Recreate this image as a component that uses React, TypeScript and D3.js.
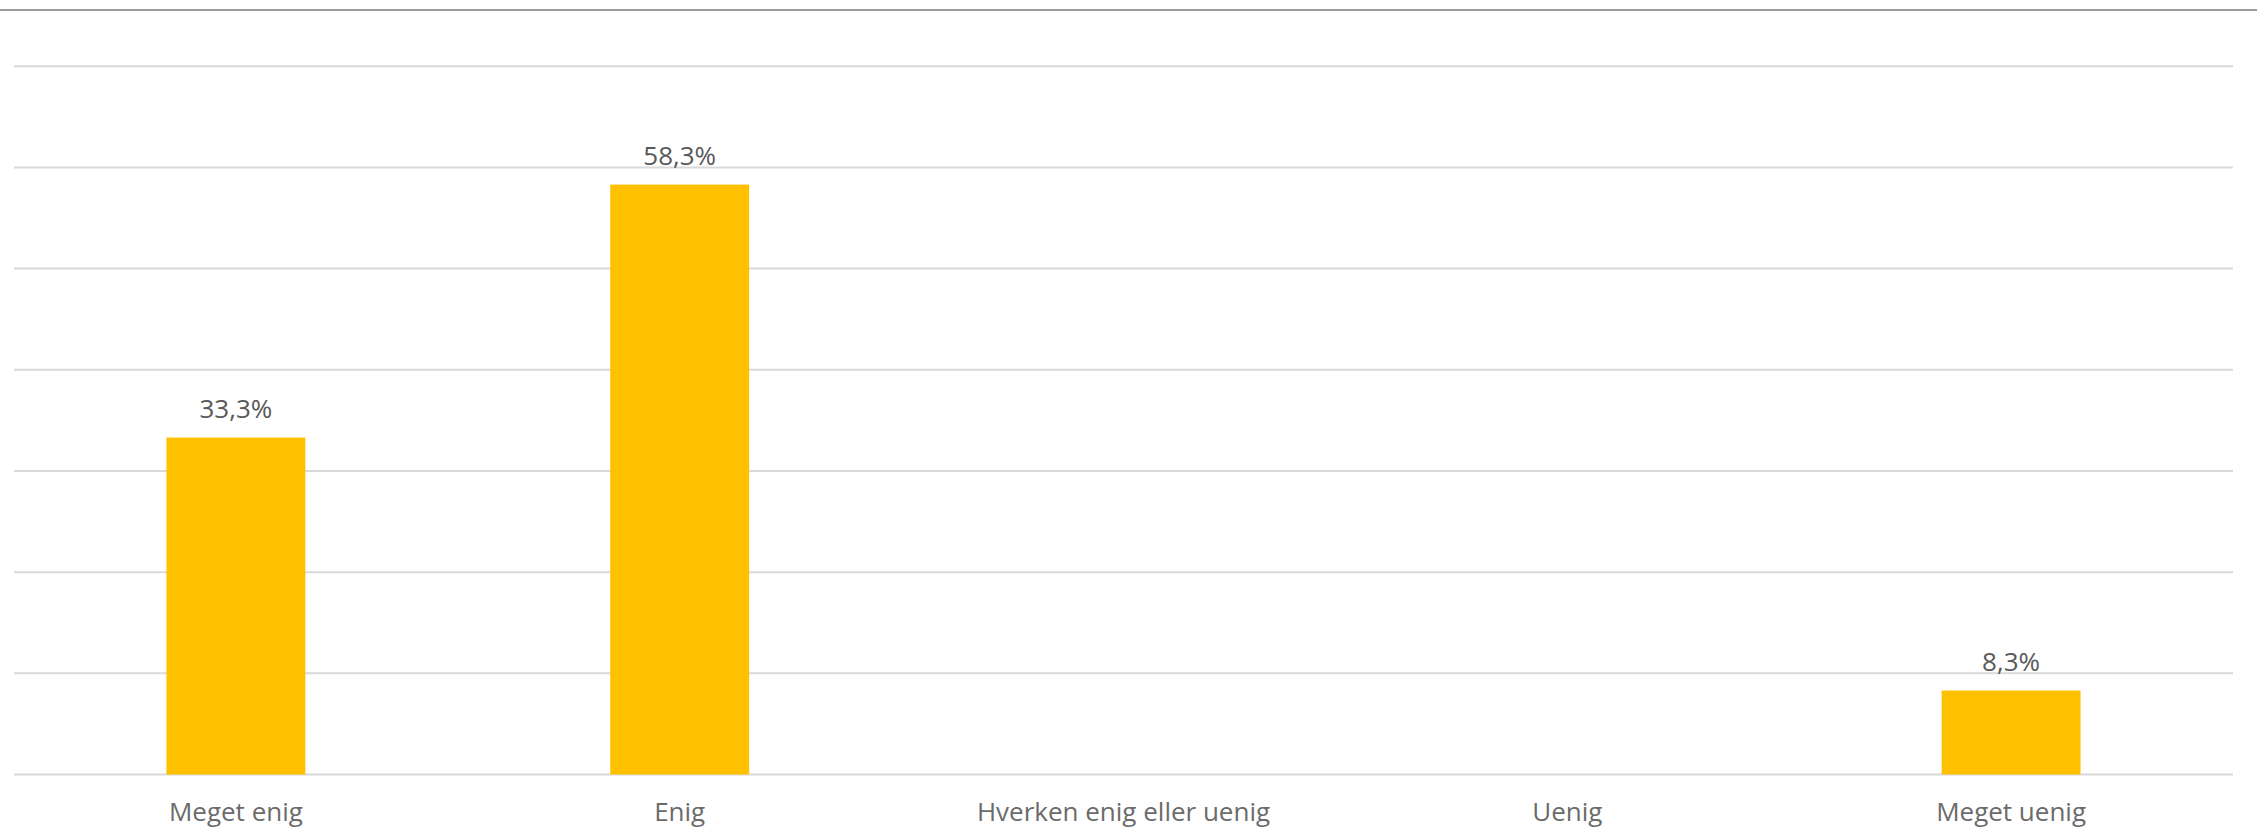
import React from "react";
import * as d3 from "d3";

const categories = ["Meget enig", "Enig", "Hverken enig eller uenig", "Uenig", "Meget uenig"];
const values: (number | null)[] = [33.3, 58.3, null, null, 8.3];
const yTicks = [0, 10, 20, 30, 40, 50, 60, 70];

const W = 2257;
const H = 828;
const left = 14;
const right = 2233;
const top = 66.2;
const bottom = 774.5;

export default function App() {
  const x = d3.scaleBand<string>().domain(categories).range([left, right]).padding(0);
  const y = d3.scaleLinear().domain([0, 70]).range([bottom, top]);
  const barW = x.bandwidth() * 0.313;
  const fmt = (v: number) => v.toFixed(1).replace(".", ",") + "%";
  const font = "'Open Sans', sans-serif";
  return (
    <svg width={W} height={H} style={{ position: "absolute", left: 0, top: 0, background: "#fff" }}>
      <line x1={0} x2={W} y1={10} y2={10} stroke="#9a9a9a" strokeWidth={2} />
      {yTicks.map((t) => (
        <line key={t} x1={left} x2={right} y1={y(t)} y2={y(t)} stroke="#d9d9d9" strokeWidth={2} />
      ))}
      {categories.map((c, i) => {
        const v = values[i];
        const cx = (x(c) as number) + x.bandwidth() / 2;
        return (
          <g key={c}>
            {v !== null && (
              <>
                <rect x={cx - barW / 2} y={y(v)} width={barW} height={y(0) - y(v)} fill="#ffc000" />
                <text x={cx} y={y(v) - 20} textAnchor="middle" fontFamily={font} fontSize={26} fill="#595959">
                  {fmt(v)}
                </text>
              </>
            )}
            <text x={cx} y={821} textAnchor="middle" fontFamily={font} fontSize={26} fill="#6b6b6b">
              {c}
            </text>
          </g>
        );
      })}
    </svg>
  );
}
